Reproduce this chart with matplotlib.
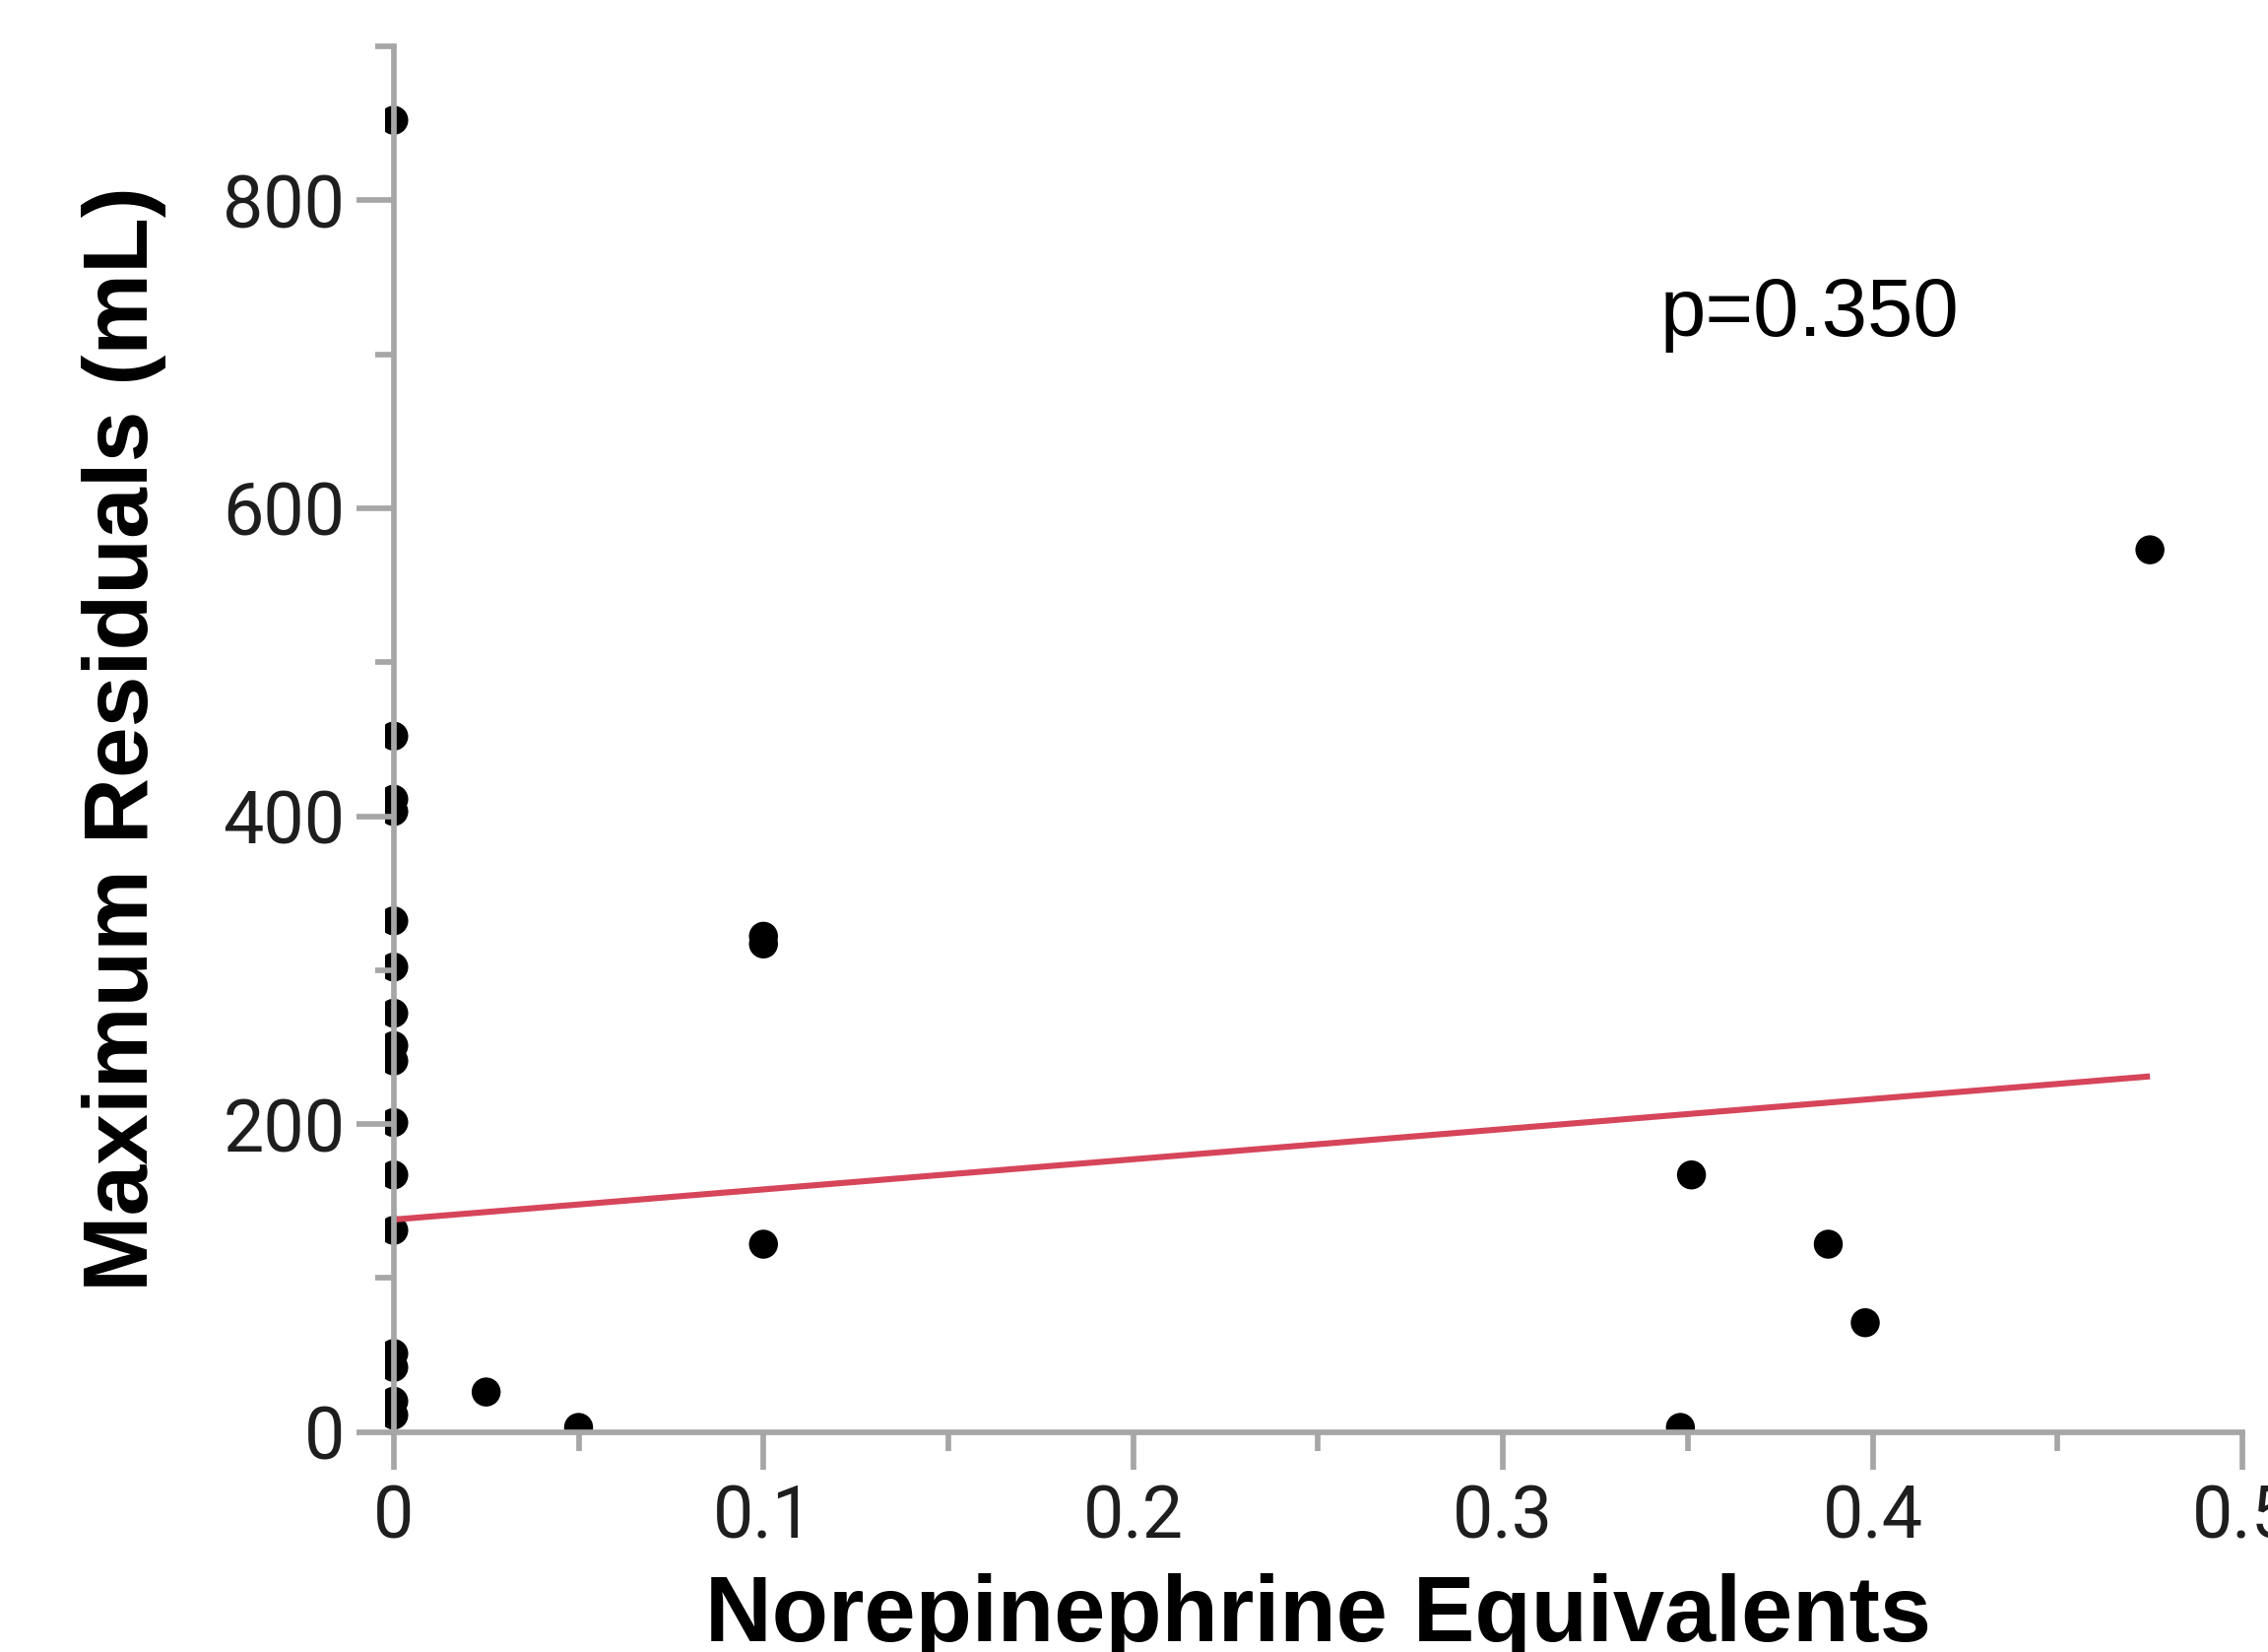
import matplotlib
matplotlib.use("Agg")
import matplotlib.pyplot as plt
from matplotlib.patches import Rectangle
from matplotlib.ticker import FuncFormatter, MultipleLocator

# norepinephrine equivalents vs maximum residuals (mL)
norepi = [0.0, 0.0, 0.0, 0.0, 0.0, 0.0, 0.0, 0.0, 0.0, 0.0, 0.0, 0.0, 0.0, 0.0, 0.0, 0.0,
          0.025, 0.05, 0.1, 0.1, 0.1, 0.348, 0.351, 0.388, 0.398, 0.475]
residuals = [852, 452, 411, 403, 332, 302, 272, 251, 241, 201, 167, 131, 51, 42, 20, 11,
             26, 3, 322, 317, 122, 3, 167, 122, 71, 573]

# fitted line
fit_x = [0.0, 0.475]
fit_y = [138, 231]
p_label = "p=0.350"

x_ticks = [0.0, 0.1, 0.2, 0.3, 0.4, 0.5]
y_ticks = [0, 200, 400, 600, 800]

AXIS_GRAY = "#a6a6a6"
TICK_TXT = "#1e1e1e"

fig = plt.figure(figsize=(23.03, 16.77), dpi=100)
ax = fig.add_axes([0.1736, 0.13315, 0.8151, 0.8388])

pts = ax.scatter(norepi, residuals, s=450, c="black", edgecolors="none", zorder=1.5)
# points sitting on the y axis are only partly shown, as in the original
pts.set_clip_path(Rectangle((-0.0048, 0.0), 1.0048, 1.0, transform=ax.transAxes))

ax.plot(fit_x, fit_y, color="#d6455a", lw=4.4, solid_capstyle="butt", zorder=2)

ax.text(0.3425, 712, p_label, fontsize=60, family="Liberation Sans",
        va="baseline", ha="left", color="black")

ax.set_xlim(0, 0.5)
ax.set_ylim(0, 900)
ax.set_xticks(x_ticks)
ax.set_yticks(y_ticks)
ax.xaxis.set_minor_locator(MultipleLocator(0.05))
ax.yaxis.set_minor_locator(MultipleLocator(100))
ax.xaxis.set_major_formatter(FuncFormatter(lambda v, _: f"{v:g}"))
ax.yaxis.set_major_formatter(FuncFormatter(lambda v, _: f"{v:g}"))

for side in ("top", "right"):
    ax.spines[side].set_visible(False)
for side in ("left", "bottom"):
    ax.spines[side].set_color(AXIS_GRAY)
    ax.spines[side].set_linewidth(4.1)

ax.tick_params(which="major", length=27.5, width=4.1, color=AXIS_GRAY,
               labelsize=53, labelcolor=TICK_TXT)
ax.tick_params(which="minor", length=14, width=4.1, color=AXIS_GRAY)
ax.tick_params(axis="x", which="major", pad=10)
ax.tick_params(axis="y", which="major", pad=8)
for lab in ax.get_xticklabels() + ax.get_yticklabels():
    lab.set_family("Roboto")
    lab.set_clip_on(False)

ax.set_xlabel("Norepinephrine Equivalents", fontsize=67.5, fontweight="bold",
              family="Liberation Sans", va="baseline")
ax.xaxis.set_label_coords(0.5, -0.151)
ax.set_ylabel("Maximum Residuals (mL)", fontsize=67, fontweight="bold",
              family="Liberation Sans", va="baseline")
ax.yaxis.set_label_coords(-0.133, 0.5)

fig.savefig("out.png", dpi=100)
